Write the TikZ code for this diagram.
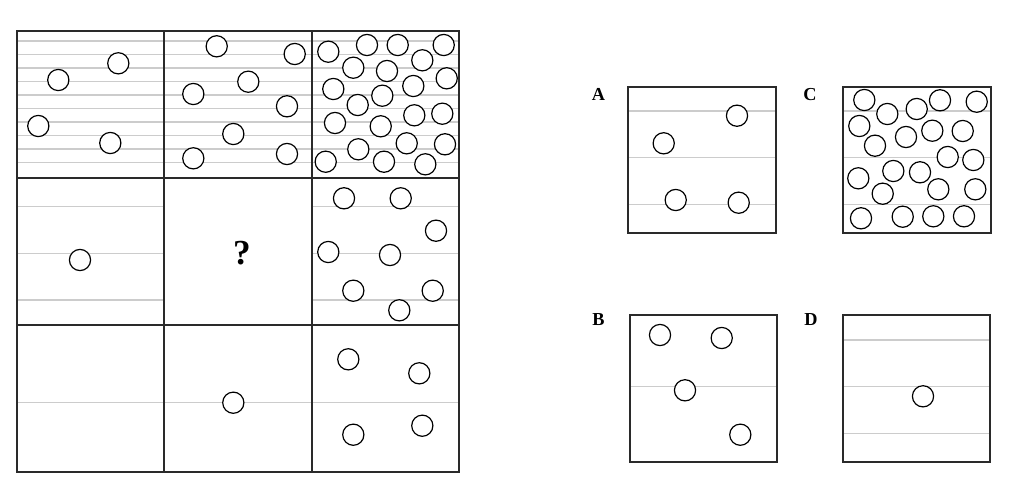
\documentclass[tikz,border=0pt]{standalone}
\usepackage{fontspec}
\setmainfont{Liberation Serif}
\usetikzlibrary{positioning}
\definecolor{panelInk}{HTML}{2A2A2A}
\definecolor{hatchGray}{HTML}{CCCCCC}
\tikzset{
  panel/.style={draw=panelInk,line width=1.3pt},
  hatchline/.style={draw=hatchGray,line width=1pt},
  ball/.style={draw=black,line width=0.85pt,fill=white},
  optlabel/.style={font=\bfseries\fontsize{13}{14}\selectfont,inner sep=0pt},
}

\begin{document}
\begin{tikzpicture}[x=0.025cm,y=-0.025cm]
  \useasboundingbox (0,0) rectangle (1029,500);

  % matrix: background rules
  \foreach \k in {0,...,9}
    \draw[hatchline] (17,{41+13.5*\k}) -- (459,{41+13.5*\k});
  \foreach \y in {206.7,253.3,300} {
    \draw[hatchline] (17,\y) -- (164,\y);
    \draw[hatchline] (312,\y) -- (459,\y);
  }
  \draw[hatchline] (17,402.3) -- (459,402.3);

  % matrix: frame
  \draw[panel] (17,31) rectangle (459,472);
  \draw[panel] (164,31) -- (164,472);
  \draw[panel] (312,31) -- (312,472);
  \draw[panel] (17,178) -- (459,178);
  \draw[panel] (17,325) -- (459,325);

  % matrix: balls
  \foreach \x/\y in {118.3/63.3,58.3/80,38.3/126,110.3/143}
    \draw[ball] (\x,\y) circle (0.265cm);
  \foreach \x/\y in {216.7/46.3,294.7/54,248.3/81.7,193.3/94,287/106.3,233.3/134,193.3/158.3,287/154}
    \draw[ball] (\x,\y) circle (0.265cm);
  \foreach \x/\y in {328.3/51.7,367/45,397.7/45,443.7/45,422.3/60.3,353.3/67.7,387/71,446.7/78.3,
                     333.3/89,413.3/86,382.3/95.7,357.7/105,335/123,414.3/115.3,442.3/113.7,380.7/126.3,
                     406.7/143.3,358.3/149.3,445/144.3,325.7/161.7,384/161.7,425.3/164.3}
    \draw[ball] (\x,\y) circle (0.265cm);
  \draw[ball] (80,260) circle (0.265cm);
  \foreach \x/\y in {344/198.3,400.7/198.3,436/230.7,328.3/252,390/255,353.3/290.7,432.7/290.7,399.3/310.3}
    \draw[ball] (\x,\y) circle (0.265cm);
  \draw[ball] (233.3,402.7) circle (0.265cm);
  \foreach \x/\y in {348.3/359.3,419.3/373.3,353.3/434.7,422.3/425.7}
    \draw[ball] (\x,\y) circle (0.265cm);

  \node[font=\bfseries\fontsize{25}{27}\selectfont,inner sep=0pt] (quest) at (242,253.5) {?};

  % answer options
  \foreach \y in {111,157.7,204.3} {
    \draw[hatchline] (628,\y) -- (776,\y);
    \draw[hatchline] (843,\y) -- (991,\y);
  }
  \draw[hatchline] (630,386.7) -- (777,386.7);
  \foreach \y in {340,386.7,433.3}
    \draw[hatchline] (843,\y) -- (990,\y);

  \draw[panel] (628,87) rectangle (776,233);
  \draw[panel] (843,87) rectangle (991,233);
  \draw[panel] (630,315) rectangle (777,462);
  \draw[panel] (843,315) rectangle (990,462);

  \node[optlabel] (labA) at (598.5,94.5) {A};
  \node[optlabel] (labC) at (810,94.5) {C};
  \node[optlabel] (labB) at (598.5,320) {B};
  \node[optlabel] (labD) at (811,320) {D};

  \foreach \x/\y in {737/115.7,663.7/143.3,675.7/200,738.7/202.7}
    \draw[ball] (\x,\y) circle (0.265cm);
  \foreach \x/\y in {864.3/100,887.3/114,916.7/109,940/100.3,976.7/101.7,859.3/126,875/145.7,906/137,
                     932.3/130.7,962.7/131,947.7/157,973.3/160,858.3/178.3,893.3/171,920/172.3,882.7/193.7,
                     938.3/189.3,975.3/189.3,861/218.3,902.7/216.7,933.3/216.3,964/216.3}
    \draw[ball] (\x,\y) circle (0.265cm);
  \foreach \x/\y in {660/335,721.7/338,685/390.3,740.3/434.7}
    \draw[ball] (\x,\y) circle (0.265cm);
  \draw[ball] (923,396.3) circle (0.265cm);
\end{tikzpicture}
\end{document}
